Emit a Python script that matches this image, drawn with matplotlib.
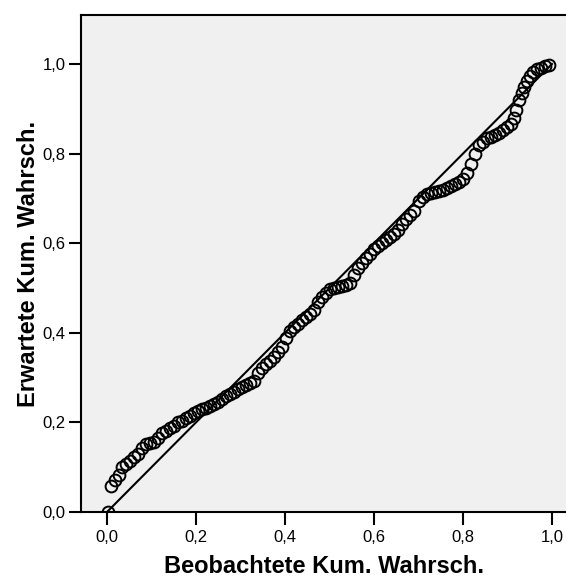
import matplotlib
matplotlib.use("Agg")
import matplotlib.pyplot as plt

plt.rcParams['font.family'] = ['Liberation Sans', 'DejaVu Sans']

# Observed cumulative probability (x) and expected cumulative probability (y)
observed = [0.003, 0.010, 0.018, 0.026, 0.034, 0.043, 0.052, 0.061, 0.070, 0.079,
            0.088, 0.097, 0.106, 0.115, 0.124, 0.133, 0.142, 0.151, 0.160, 0.169,
            0.178, 0.187, 0.196, 0.205, 0.214, 0.223, 0.232, 0.241, 0.250, 0.259,
            0.268, 0.277, 0.286, 0.295, 0.304, 0.313, 0.322, 0.331, 0.340, 0.349,
            0.358, 0.367, 0.376, 0.385, 0.394, 0.403, 0.412, 0.421, 0.430, 0.439,
            0.448, 0.457, 0.466, 0.475, 0.484, 0.493, 0.502, 0.511, 0.520, 0.529,
            0.538, 0.547, 0.556, 0.565, 0.574, 0.583, 0.592, 0.601, 0.610, 0.619,
            0.628, 0.637, 0.646, 0.655, 0.664, 0.673, 0.682, 0.691, 0.700, 0.709,
            0.718, 0.727, 0.736, 0.745, 0.754, 0.763, 0.772, 0.781, 0.790, 0.799,
            0.808, 0.817, 0.826, 0.835, 0.844, 0.853, 0.862, 0.871, 0.880, 0.889,
            0.898, 0.907, 0.914, 0.920, 0.926, 0.932, 0.938, 0.944, 0.950, 0.957,
            0.966, 0.975, 0.984, 0.993]
expected = [0.000, 0.057, 0.072, 0.082, 0.101, 0.108, 0.114, 0.122, 0.130, 0.142,
            0.152, 0.155, 0.157, 0.166, 0.176, 0.181, 0.187, 0.193, 0.200, 0.204,
            0.209, 0.214, 0.220, 0.226, 0.230, 0.233, 0.237, 0.241, 0.246, 0.252,
            0.258, 0.263, 0.268, 0.274, 0.279, 0.284, 0.289, 0.293, 0.310, 0.322,
            0.330, 0.337, 0.347, 0.357, 0.368, 0.388, 0.403, 0.412, 0.420, 0.428,
            0.435, 0.441, 0.452, 0.468, 0.481, 0.489, 0.497, 0.501, 0.503, 0.505,
            0.507, 0.512, 0.528, 0.544, 0.556, 0.568, 0.577, 0.586, 0.593, 0.600,
            0.607, 0.613, 0.620, 0.630, 0.642, 0.653, 0.662, 0.672, 0.694, 0.704,
            0.710, 0.713, 0.715, 0.717, 0.719, 0.723, 0.727, 0.732, 0.737, 0.744,
            0.757, 0.777, 0.799, 0.820, 0.826, 0.834, 0.838, 0.842, 0.846, 0.852,
            0.859, 0.867, 0.880, 0.898, 0.920, 0.936, 0.949, 0.962, 0.974, 0.982,
            0.988, 0.992, 0.995, 0.998]

ref_line = [0.0, 1.0]
ticks = [0.0, 0.2, 0.4, 0.6, 0.8, 1.0]
tick_labels = ["0,0", "0,2", "0,4", "0,6", "0,8", "1,0"]
x_title = "Beobachtete Kum. Wahrsch."
y_title = "Erwartete Kum. Wahrsch."

fig = plt.figure(figsize=(5.66, 5.81), dpi=100)
ax = fig.add_axes([81/566, 1 - 512/581, 1 - 81/566, (512 - 15)/581])
ax.set_facecolor('#F0F0F0')

ax.plot(ref_line, ref_line, color='black', lw=1.5, zorder=2)
ax.plot(observed, expected, linestyle='none', marker='o', markersize=8.5,
        markerfacecolor='none', markeredgecolor='black', markeredgewidth=1.4, zorder=3)

ax.set_xlim((81 - 107)/445, (566 - 107)/445)
ax.set_ylim(0, (512 - 15)/448)
ax.set_xticks(ticks)
ax.set_xticklabels(tick_labels)
ax.set_yticks(ticks)
ax.set_yticklabels(tick_labels)
ax.tick_params(direction='out', length=9, width=1.5, labelsize=12, pad=2, colors='black')
ax.tick_params(axis='x', pad=4)
for s in ['left', 'bottom', 'top']:
    ax.spines[s].set_linewidth(1.5)
ax.spines['right'].set_visible(False)

ax.set_xlabel(x_title, fontsize=17, fontweight='bold', labelpad=7)
ax.set_ylabel(y_title, fontsize=17, fontweight='bold', labelpad=2)

fig.savefig('out.png', dpi=100)
